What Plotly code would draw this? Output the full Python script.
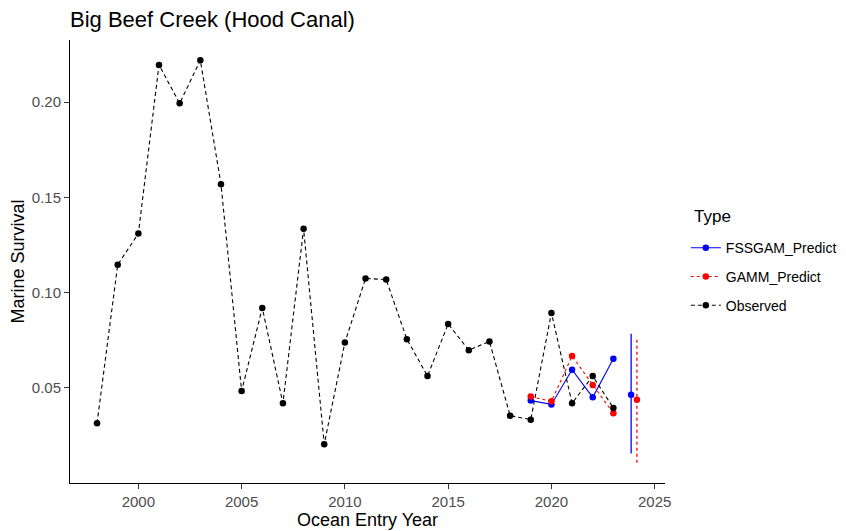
import plotly.graph_objects as go

# ---- data ----
obs_years = list(range(1998, 2024))
obs_vals = [0.0313, 0.1146, 0.1310, 0.2196, 0.1994, 0.2221, 0.1569, 0.0482, 0.0919, 0.0418,
            0.1335, 0.0203, 0.0737, 0.1074, 0.1068, 0.0755, 0.0561, 0.0835, 0.0697, 0.0743,
            0.0353, 0.0332, 0.0893, 0.0418, 0.0561, 0.0393]

pred_years = [2019, 2020, 2021, 2022, 2023]
fssgam_vals = [0.0432, 0.0412, 0.0594, 0.0449, 0.0652]
gamm_vals = [0.0453, 0.0428, 0.0666, 0.0514, 0.0365]

forecast_year = 2024
fssgam_fc = 0.0463
fssgam_lo = 0.0154
fssgam_hi = 0.0783
gamm_fc = 0.0437
gamm_lo = 0.0105
gamm_hi = 0.0765

x_ticks = [2000, 2005, 2010, 2015, 2020, 2025]
y_ticks = [0.05, 0.10, 0.15, 0.20]

# ---- style ----
dodge = 0.14
FONT = "Liberation Sans, Arial, sans-serif"
BLUE = "#0000FF"
RED = "#FF0000"
MS = 6.5
# page body has an 8px margin, so the figure is sized to fit inside the window
W, H = 838, 523
L, R, T, B = 62, 181, 32, 48
PW, PH = W - L - R, H - T - B

fig = go.Figure()

fig.add_trace(go.Scatter(x=pred_years, y=fssgam_vals, mode="lines+markers", name="FSSGAM_Predict",
                         legendgroup="a", line=dict(color=BLUE, width=1.1),
                         marker=dict(color=BLUE, size=MS)))
fig.add_trace(go.Scatter(x=pred_years, y=gamm_vals, mode="lines+markers", name="GAMM_Predict",
                         legendgroup="b", line=dict(color=RED, width=1.1, dash="dot"),
                         marker=dict(color=RED, size=MS)))
fig.add_trace(go.Scatter(x=obs_years, y=obs_vals, mode="lines+markers", name="Observed",
                         legendgroup="c", line=dict(color="black", width=1.1, dash="4px,3px"),
                         marker=dict(color="black", size=MS)))

fx_b = forecast_year - dodge
fx_r = forecast_year + dodge
fig.add_trace(go.Scatter(x=[fx_b, fx_b], y=[fssgam_lo, fssgam_hi], mode="lines",
                         line=dict(color=BLUE, width=1.3), showlegend=False, hoverinfo="skip"))
fig.add_trace(go.Scatter(x=[fx_r, fx_r], y=[gamm_lo, gamm_hi], mode="lines",
                         line=dict(color=RED, width=1.3, dash="dot"), showlegend=False, hoverinfo="skip"))
fig.add_trace(go.Scatter(x=[fx_b], y=[fssgam_fc], mode="markers",
                         marker=dict(color=BLUE, size=MS), showlegend=False))
fig.add_trace(go.Scatter(x=[fx_r], y=[gamm_fc], mode="markers",
                         marker=dict(color=RED, size=MS), showlegend=False))

fig.update_layout(
    width=W, height=H,
    margin=dict(l=L, r=R, t=T, b=B, autoexpand=False),
    paper_bgcolor="white", plot_bgcolor="white",
    font=dict(family=FONT, color="black"),
    title=dict(text="Big Beef Creek (Hood Canal)", x=L / W, xanchor="left",
               y=1 - 11 / H, yanchor="middle", yref="container",
               font=dict(size=22, color="black", family=FONT)),
    xaxis=dict(range=[1996.69, 2025.5], tickvals=x_ticks, ticktext=[str(t) for t in x_ticks],
               showgrid=False, zeroline=False, showline=True, linecolor="black", linewidth=1,
               ticks="outside", ticklen=5, tickcolor="#333333", tickwidth=1, automargin=False,
               tickfont=dict(size=15, color="#4D4D4D", family=FONT),
               title=dict(text="Ocean Entry Year", font=dict(size=18, color="black", family=FONT), standoff=4)),
    yaxis=dict(range=[-0.0001, 0.2327], tickvals=y_ticks, ticktext=["%.2f" % t for t in y_ticks],
               showgrid=False, zeroline=False, showline=True, linecolor="black", linewidth=1,
               ticks="outside", ticklen=5, tickcolor="#333333", tickwidth=1, automargin=False,
               tickfont=dict(size=15, color="#4D4D4D", family=FONT),
               title=dict(text="Marine Survival", font=dict(size=18, color="black", family=FONT), standoff=5)),
    legend=dict(x=1.035, xanchor="left", y=(PH - (268.7 - T)) / PH, yanchor="middle",
                font=dict(size=14, color="black", family=FONT),
                tracegroupgap=7.5, itemwidth=30, bgcolor="rgba(0,0,0,0)"),
    annotations=[dict(text="Type", xref="paper", yref="paper", x=(683.5 - L) / PW, xanchor="left",
                      y=(PH - (208 - T)) / PH, yanchor="middle", showarrow=False,
                      font=dict(size=17, color="black", family=FONT))],
    showlegend=True,
)

fig.write_html("out.html")
